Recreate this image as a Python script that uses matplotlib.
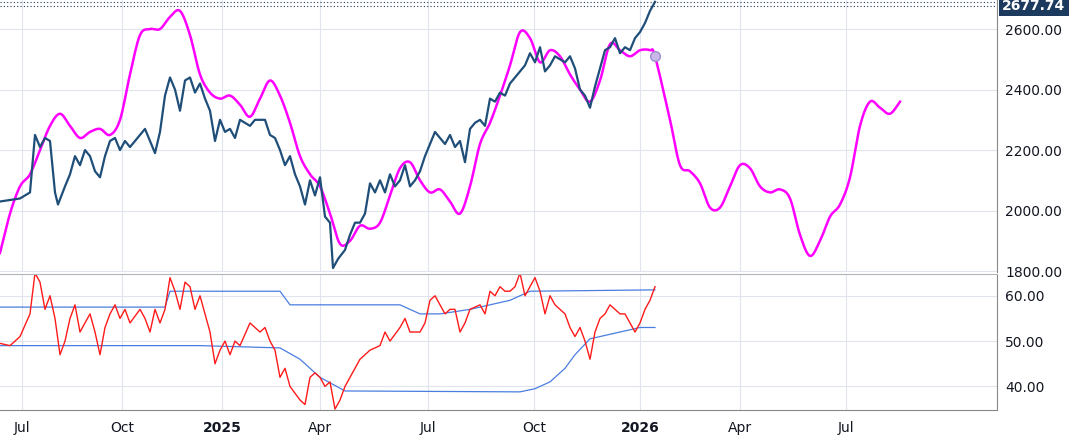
import matplotlib
matplotlib.use("Agg")
import matplotlib.pyplot as plt
import numpy as np

price_x = [0,20,30,35,40,45,50,55,58,65,70,75,80,85,90,95,100,105,110,115,120,125,130,140,145,150,155,160,165,170,175,180,185,190,195,200,205,210,215,220,225,230,235,240,245,250,255,260,265,270,275,280,285,290,295,300,305,310,315,320,325,330,333,338,345,350,355,360,365,370,375,380,385,390,395,400,405,410,415,420,425,430,435,440,445,450,455,460,465,470,475,480,485,490,495,500,505,510,515,520,525,530,535,540,545,550,555,560,565,570,575,580,585,590,595,600,605,610,615,620,625,630,635,640,645,650,655]
price_y = [2030,2040,2060,2250,2210,2240,2230,2060,2020,2080,2120,2180,2150,2200,2180,2130,2110,2180,2230,2240,2200,2230,2210,2250,2270,2230,2190,2260,2380,2440,2400,2330,2430,2440,2390,2420,2370,2330,2230,2300,2260,2270,2240,2300,2290,2280,2300,2300,2300,2250,2240,2200,2150,2180,2120,2080,2020,2100,2050,2110,1980,1960,1810,1840,1870,1920,1960,1960,1990,2090,2060,2100,2060,2120,2080,2100,2150,2080,2100,2130,2180,2220,2260,2240,2220,2250,2210,2230,2160,2270,2290,2300,2280,2370,2360,2390,2380,2420,2440,2460,2480,2520,2490,2540,2460,2480,2510,2500,2490,2510,2470,2400,2380,2340,2410,2470,2530,2540,2570,2520,2540,2530,2570,2590,2620,2660,2690]

curve_x = list(range(0, 660, 10)) + [655] + list(range(670, 910, 10))
curve_y = [1860,1990,2080,2120,2200,2280,2320,2280,2240,2260,2270,2250,2300,2450,2580,2600,2600,2640,2660,2580,2450,2390,2370,2380,2350,2310,2370,2430,2380,2290,2180,2120,2080,1990,1890,1900,1950,1940,1960,2050,2140,2160,2100,2060,2070,2030,1990,2080,2220,2290,2380,2480,2590,2570,2490,2530,2510,2450,2400,2360,2430,2550,2530,2510,2530,2530,
           2510,
           2300,2150,2130,2090,2010,2010,2080,2150,2140,2080,2060,2070,2040,1920,1850,1900,1980,2020,2110,2280,2360,2340,2320,2360]

osc_x = [0,10,20,30,35,40,45,50,55,60,65,70,75,80,90,95,100,105,110,115,120,125,130,140,145,150,155,160,165,170,175,180,185,190,195,200,205,210,215,220,225,230,235,240,250,255,260,265,270,275,280,285,290,300,305,310,315,320,325,330,335,340,345,350,360,365,370,380,385,390,400,405,410,420,425,430,435,440,445,450,455,460,465,470,480,485,490,495,500,505,510,515,520,525,530,535,540,545,550,555,560,565,570,575,580,585,590,595,600,605,610,615,620,625,630,635,640,645,650,655]
osc_y = [49.5,49,51,56,65,63,57,60,55,47,50,55,58,52,56,52,47,53,56,58,55,57,54,57,55,52,57,54,57,64,61,57,63,62,57,60,56,52,45,48,50,47,50,49,54,53,52,53,50,48,42,44,40,37,36,42,43,42,40,41,35,37,40,42,46,47,48,49,52,50,53,55,52,52,54,59,60,58,56,57,57,52,54,57,58,56,61,60,62,61,61,62,65,60,62,64,61,56,60,58,57,56,53,51,53,50,46,52,55,56,58,57,56,56,54,52,54,57,59,62]

up_x = [0,165,170,280,290,400,420,440,470,510,530,655]
up_y = [57.5,57.5,61,61,58,58,56,56,57,59,61,61.3]
lo_x = [0,200,280,300,320,345,520,535,550,565,575,590,600,620,640,655]
lo_y = [49,49,48.5,46,42,39,38.8,39.5,41,44,47,50.5,51,52,53,53]

tick_pos = [22,122,222,320,428,534,640,740,846]
tick_lab = ["Jul","Oct","2025","Apr","Jul","Oct","2026","Apr","Jul"]
last_price = 2677.74


def smooth(xs, ys, n=8):
    # Catmull-Rom rendering of a line through the given points
    x = np.asarray(xs, float); y = np.asarray(ys, float)
    px = np.concatenate([[x[0]], x, [x[-1]]]); py = np.concatenate([[y[0]], y, [y[-1]]])
    ox, oy = [], []
    t = np.linspace(0, 1, n, endpoint=False)
    for i in range(1, len(px) - 2):
        for arr, out in ((px, ox), (py, oy)):
            p0, p1, p2, p3 = arr[i-1], arr[i], arr[i+1], arr[i+2]
            out.extend(0.5*((2*p1) + (-p0+p2)*t + (2*p0-5*p1+4*p2-p3)*t**2 + (-p0+3*p1-3*p2+p3)*t**3))
    ox.append(x[-1]); oy.append(y[-1])
    return ox, oy

W, H = 1074, 446
fig = plt.figure(figsize=(W/100, H/100), dpi=100)
R = 997/W
ax1 = fig.add_axes([0, 1-272/H, R, 272/H])
ax2 = fig.add_axes([0, 1-410/H, R, 136/H])
grid = "#dfe4ee"
tc = "#131722"
for ax in (ax1, ax2):
    ax.set_xlim(0, 997)
    ax.grid(True, color=grid, lw=0.8)
    ax.yaxis.tick_right()
    ax.tick_params(axis="y", length=0, labelsize=10, colors=tc, pad=6)
    for s in ax.spines.values():
        s.set_visible(False)
    ax.set_xticks(tick_pos)
for ax in (ax1, ax2):
    ax.spines["right"].set_visible(True)
    ax.spines["right"].set_color("#888")
ax2.spines["top"].set_visible(True); ax2.spines["bottom"].set_visible(True)
ax2.spines["top"].set_color("#b2b5be"); ax2.spines["bottom"].set_color("#888")
ax1.tick_params(axis="x", length=0, labelbottom=False)

ax1.set_ylim(1797, 2696)
ax1.set_yticks([1800,2000,2200,2400,2600])
ax1.set_yticklabels([f"{v:.2f}" for v in [1800,2000,2200,2400,2600]])
sx, sy = smooth(curve_x, curve_y)
ax1.plot(sx, sy, color="#ff00ff", lw=1.8)
ax1.plot(price_x, price_y, color="#1f4e79", lw=1.6)
ax1.plot([655], [2510], "o", ms=7, mfc="#c9b8e8", mec="#9b8fd0")
ax1.axhline(last_price, color="#1f3a5f", lw=0.8, ls=(0,(1,2)))
ax1.axhline(2690, color="#1f3a5f", lw=0.8, ls=(0,(1,2)))
ax1.text(1002, last_price, f"{last_price:.2f}", transform=ax1.transData,
         fontsize=10, color="white", fontweight="bold", va="center", ha="left", clip_on=False,
         bbox=dict(boxstyle="square,pad=0.25", fc="#1c3a5e", ec="none"))

ax2.set_ylim(34.8, 64.8)
ax2.set_yticks([40,50,60])
ax2.set_yticklabels(["40.00","50.00","60.00"])
ax2.plot(up_x, up_y, color="#4a7de0", lw=0.9)
ax2.plot(lo_x, lo_y, color="#4a7de0", lw=0.9)
ax2.plot(osc_x, osc_y, color="#ff1a1a", lw=1.0)
ax2.set_xticklabels(tick_lab)
ax2.tick_params(axis="x", length=0, labelsize=10, colors=tc, pad=8)
for lbl in ax2.get_xticklabels():
    if lbl.get_text() in ("2025", "2026"):
        lbl.set_fontweight("bold")
fig.savefig("out.png", dpi=100, facecolor="white")
